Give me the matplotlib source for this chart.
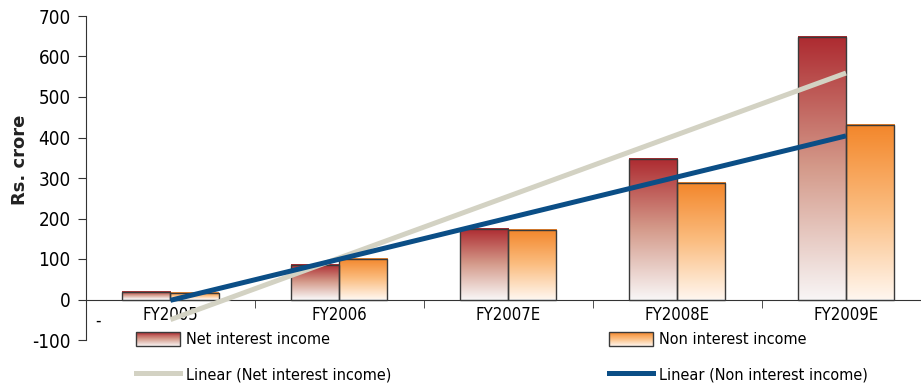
import matplotlib
matplotlib.use('Agg')

import numpy as np
import matplotlib.pyplot as plt
from matplotlib import font_manager
from matplotlib.colors import LinearSegmentedColormap
from matplotlib.patches import Rectangle
from matplotlib.lines import Line2D
from matplotlib.legend_handler import HandlerBase

years = ['FY2005', 'FY2006', 'FY2007E', 'FY2008E', 'FY2009E']
net_interest = [18, 86, 175, 346, 649]
non_interest = [16, 100, 172, 287, 430]
yticks = [-100, 0, 100, 200, 300, 400, 500, 600, 700]

# prefer a narrow face if one is installed
_fonts = font_manager.fontManager.ttflist
_names = {f.name for f in _fonts}
STRETCH = 'normal'
if 'Liberation Sans Narrow' in _names:
    FONT = 'Liberation Sans Narrow'
else:
    FONT = 'DejaVu Sans'
    if any(f.name == 'DejaVu Sans' and f.stretch == 'condensed' for f in _fonts):
        STRETCH = 'condensed'

plt.rcParams.update({
    'font.family': FONT,
    'font.stretch': STRETCH,
    'font.size': 12,
    'axes.unicode_minus': False,
    'figure.facecolor': 'white',
})

RED_CM = LinearSegmentedColormap.from_list('nii', ['#f8f5f5', '#d49a8a', '#ad2a30'])
ORG_CM = LinearSegmentedColormap.from_list('noi', ['#fff6ee', '#fbbd80', '#f3862a'])
EDGE = '#3a3a3a'
GRAY = '#d3d2c3'
BLUE = '#0b4e86'


class GradientHandler(HandlerBase):
    def __init__(self, cmap, n=30):
        super().__init__()
        self.cmap = cmap
        self.n = n

    def create_artists(self, legend, orig_handle, xdescent, ydescent,
                       width, height, fontsize, trans):
        arts = []
        for i in range(self.n):
            y0 = -ydescent + height * i / self.n
            arts.append(Rectangle((-xdescent, y0), width, height / self.n * 1.05,
                                  facecolor=self.cmap(i / (self.n - 1)),
                                  edgecolor='none', transform=trans))
        arts.append(Rectangle((-xdescent, -ydescent), width, height,
                              facecolor='none', edgecolor=EDGE, lw=1.0,
                              transform=trans))
        return arts


fig = plt.figure(figsize=(9.21, 3.85), dpi=100)
ax = fig.add_axes([86 / 921, 45 / 385, 1 - 86 / 921, 324 / 385])

x = np.arange(len(years))
w = 0.285

bars_a = ax.bar(x - w / 2, net_interest, w, facecolor='none',
                edgecolor=EDGE, lw=1.0, zorder=3)
bars_b = ax.bar(x + w / 2, non_interest, w, facecolor='none',
                edgecolor=EDGE, lw=1.0, zorder=3)

grad = np.linspace(0, 1, 256).reshape(-1, 1)
for bars, cm in ((bars_a, RED_CM), (bars_b, ORG_CM)):
    for b in bars:
        ax.imshow(grad, cmap=cm, origin='lower', aspect='auto', zorder=2,
                  extent=[b.get_x(), b.get_x() + b.get_width(), 0, b.get_height()])

# linear trend lines
fit_a = np.polyfit(x, net_interest, 1)
fit_b = np.polyfit(x, non_interest, 1)
ax.plot(x, np.polyval(fit_a, x), color=GRAY, lw=3.6, zorder=4,
        solid_capstyle='butt')
ax.plot(x, np.polyval(fit_b, x), color=BLUE, lw=3.6, zorder=5,
        solid_capstyle='butt')

ax.set_xlim(-0.5, 4.444)
ax.set_ylim(-100, 700)
ax.set_yticks(yticks)
ax.set_xticks(x)
ax.set_xticklabels(years)
ax.set_xticks(x[:-1] + 0.5, minor=True)

for s in ('top', 'right'):
    ax.spines[s].set_visible(False)
ax.spines['bottom'].set_position(('data', 0))
ax.spines['bottom'].set_color('#333333')
ax.spines['left'].set_color('#333333')
ax.tick_params(axis='x', which='major', length=0, pad=4.5, labelsize=12)
ax.tick_params(axis='x', which='minor', length=6, direction='out', color='#333333')
ax.tick_params(axis='y', length=6, direction='out', pad=5, labelsize=13.5,
               color='#333333')
ax.set_facecolor('none')

fig.text(20 / 921, 1 - 160 / 385, 'Rs. crore', rotation=90, ha='center',
         va='center', fontsize=13, fontweight='bold', family='DejaVu Sans',
         stretch='normal', color='#222222')
fig.text(98 / 921, 1 - 321 / 385, '-', ha='center', va='center', fontsize=12)

red_h = Rectangle((0, 0), 1, 1)
org_h = Rectangle((0, 0), 1, 1)
fs = 11.6
fpx = fs * 100 / 72
lg_kw = dict(loc='center left', frameon=False, borderpad=0, borderaxespad=0,
             fontsize=fs, handlelength=44 / fpx, handleheight=16 / fpx,
             handletextpad=6 / fpx, labelspacing=1.2)
leg1 = fig.legend([red_h, Line2D([], [], color=GRAY, lw=3.6)],
                  ['Net interest income', 'Linear (Net interest income)'],
                  bbox_to_anchor=(136 / 921, 1 - 357 / 385),
                  handler_map={red_h: GradientHandler(RED_CM)}, **lg_kw)
leg2 = fig.legend([org_h, Line2D([], [], color=BLUE, lw=3.6)],
                  ['Non interest income', 'Linear (Non interest income)'],
                  bbox_to_anchor=(609 / 921, 1 - 357 / 385),
                  handler_map={org_h: GradientHandler(ORG_CM)}, **lg_kw)

fig.savefig('out.png', dpi=100, facecolor='white')
